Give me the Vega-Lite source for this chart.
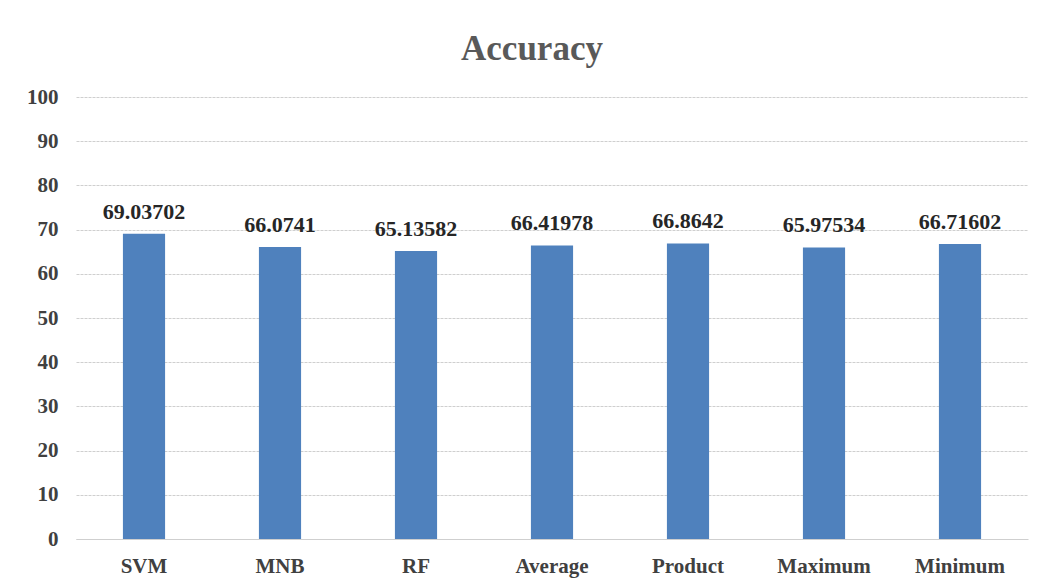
{
  "$schema": "https://vega.github.io/schema/vega-lite/v6.json",
  "autosize": "none",
  "width": 952,
  "height": 442,
  "padding": {"left": 76, "top": 97, "right": 13, "bottom": 46},
  "background": "white",
  "title": {
    "text": "Accuracy",
    "font": "Liberation Serif",
    "fontSize": 35,
    "fontWeight": "bold",
    "color": "#595959",
    "anchor": "middle",
    "dx": -20,
    "offset": 19
  },
  "data": {
    "values": [
      {"method": "SVM", "accuracy": 69.03702},
      {"method": "MNB", "accuracy": 66.0741},
      {"method": "RF", "accuracy": 65.13582},
      {"method": "Average", "accuracy": 66.41978},
      {"method": "Product", "accuracy": 66.8642},
      {"method": "Maximum", "accuracy": 65.97534},
      {"method": "Minimum", "accuracy": 66.71602}
    ]
  },
  "encoding": {
    "x": {
      "field": "method",
      "type": "nominal",
      "sort": null,
      "scale": {"paddingInner": 0.69, "paddingOuter": 0.345},
      "axis": {
        "title": null,
        "labelAngle": 0,
        "labelFont": "Liberation Serif",
        "labelFontSize": 21,
        "labelFontWeight": "bold",
        "labelColor": "#404040",
        "labelPadding": 16,
        "ticks": false,
        "domainColor": "#cfcfcf",
        "grid": false
      }
    },
    "y": {
      "field": "accuracy",
      "type": "quantitative",
      "scale": {"domain": [0, 100], "nice": false},
      "axis": {
        "title": null,
        "values": [0, 10, 20, 30, 40, 50, 60, 70, 80, 90, 100],
        "labelFont": "Liberation Serif",
        "labelFontSize": 21,
        "labelFontWeight": "bold",
        "labelColor": "#404040",
        "labelPadding": 18,
        "ticks": false,
        "domain": false,
        "grid": true,
        "gridColor": "#cfcfcf",
        "gridDash": [3, 1],
        "gridWidth": 1
      }
    }
  },
  "layer": [
    {
      "mark": {"type": "bar", "color": "#4F81BD"}
    },
    {
      "mark": {
        "type": "text",
        "baseline": "alphabetic",
        "dy": -15,
        "font": "Liberation Serif",
        "fontSize": 22,
        "fontWeight": "bold",
        "color": "#262626"
      },
      "encoding": {
        "text": {"field": "accuracy", "type": "nominal"}
      }
    }
  ],
  "config": {
    "view": {"stroke": null}
  }
}
